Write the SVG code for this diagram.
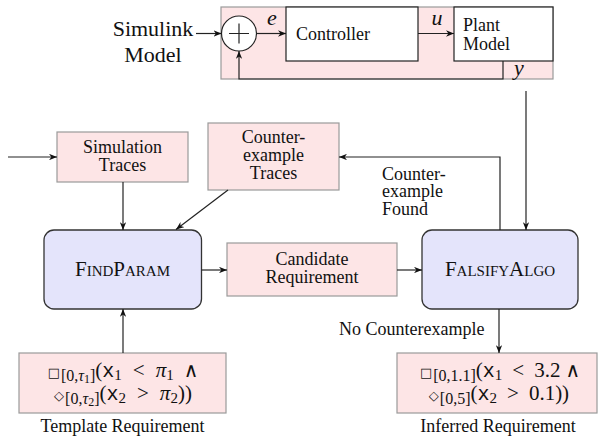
<svg xmlns="http://www.w3.org/2000/svg" width="598" height="441" viewBox="0 0 598 441">
<style>
text{font-family:"Liberation Serif","Times New Roman",serif;font-size:18px;fill:#111}
.pink{fill:#fde5e6;stroke:#9a9a9a;stroke-width:1.2}
.blue{fill:#e4e4fb;stroke:#333;stroke-width:1.3}
.white{fill:#fff;stroke:#222;stroke-width:1.2}
.ca{fill:none;stroke:#222;stroke-width:1.2;marker-end:url(#ah)}
.sc{font-variant:small-caps;font-size:21px}
.m{font-size:21px}
.mono{font-family:"Liberation Mono","Courier New",monospace;font-size:20px}
.mi{font-style:italic;font-size:22px}
.sym{font-family:"DejaVu Sans",sans-serif}
.and{font-family:"DejaVu Serif",serif;font-size:20px}
.lbl{font-family:"Liberation Serif","Times New Roman",serif;font-size:18px}
</style>
<defs>
<marker id="ah" viewBox="0 0 10 8" refX="10" refY="4" markerWidth="8" markerHeight="6.4" orient="auto" markerUnits="userSpaceOnUse">
<path d="M0,0 L10,4 L0,8 L3,4 z" fill="#111"/>
</marker>
</defs>

<g id="simulink-panel">
<rect x="221" y="7" width="332" height="72" class="pink"/>
</g>
<g id="simulink-label">
<text x="153" y="36" text-anchor="middle" style="font-size:22px">Simulink</text>
<text x="153" y="62" text-anchor="middle" style="font-size:22px">Model</text>
</g>
<g id="sum">
<circle cx="239" cy="33.5" r="17.5" fill="#fff" stroke="#222" stroke-width="1.2"/>
<path d="M229,33.5 H249 M239,23.5 V43.5" stroke="#222" stroke-width="1.2"/>
</g>
<g id="controller">
<rect x="286" y="7" width="132" height="54" class="white"/>
<text x="333" y="40" text-anchor="middle" class="lbl">Controller</text>
</g>
<g id="plant">
<rect x="454" y="7" width="99" height="54" class="white"/>
<text x="463" y="31" class="lbl">Plant</text>
<text x="463" y="50" class="lbl">Model</text>
</g>
<g id="simulation-traces">
<rect x="57" y="132" width="131" height="50" class="pink"/>
<text x="122.5" y="153" text-anchor="middle" class="lbl">Simulation</text>
<text x="122.5" y="171" text-anchor="middle" class="lbl">Traces</text>
</g>
<g id="counterexample-traces">
<rect x="208" y="123" width="131" height="67" class="pink"/>
<text x="273.5" y="143" text-anchor="middle" class="lbl">Counter-</text>
<text x="273.5" y="161" text-anchor="middle" class="lbl">example</text>
<text x="273.5" y="179" text-anchor="middle" class="lbl">Traces</text>
</g>
<g id="findparam">
<rect x="44" y="230" width="157.5" height="79" rx="10" class="blue"/>
<text x="122.5" y="276" text-anchor="middle" class="sc">FindParam</text>
</g>
<g id="candidate">
<rect x="227" y="243" width="170" height="53" class="pink"/>
<text x="312" y="265" text-anchor="middle" class="lbl">Candidate</text>
<text x="312" y="283" text-anchor="middle" class="lbl">Requirement</text>
</g>
<g id="falsifyalgo">
<rect x="422" y="230" width="156" height="79" rx="10" class="blue"/>
<text x="500" y="276" text-anchor="middle" class="sc">FalsifyAlgo</text>
</g>
<g id="template">
<rect x="19" y="353" width="207" height="60" class="pink"/>
<text x="123" y="377" text-anchor="middle" class="m"><tspan class="sym" font-size="13">□</tspan><tspan font-size="16" dy="4" dx="1">[0,</tspan><tspan font-size="16" font-style="italic">τ</tspan><tspan font-size="12" dy="2">1</tspan><tspan font-size="16" dy="-2">]</tspan><tspan dy="-4">(</tspan><tspan class="mono">x</tspan><tspan font-size="15" dy="3">1</tspan><tspan dy="-3" dx="11">&lt;</tspan><tspan font-style="italic" dx="11">π</tspan><tspan font-size="15" dy="3">1</tspan><tspan dy="-3" dx="10" class="and">∧</tspan></text>
<text x="123" y="400" text-anchor="middle" class="m"><tspan class="sym" font-size="13">◇</tspan><tspan font-size="16" dy="4" dx="1">[0,</tspan><tspan font-size="16" font-style="italic">τ</tspan><tspan font-size="12" dy="2">2</tspan><tspan font-size="16" dy="-2">]</tspan><tspan dy="-4">(</tspan><tspan class="mono">x</tspan><tspan font-size="15" dy="3">2</tspan><tspan dy="-3" dx="11">&gt;</tspan><tspan font-style="italic" dx="11">π</tspan><tspan font-size="15" dy="3">2</tspan><tspan dy="-3">))</tspan></text>
<text x="122.5" y="432" text-anchor="middle">Template Requirement</text>
</g>
<g id="inferred">
<rect x="397" y="353" width="200" height="60" class="pink"/>
<text x="500" y="377" text-anchor="middle" class="m"><tspan class="sym" font-size="13">□</tspan><tspan font-size="16" dy="4" dx="1">[0,1.1]</tspan><tspan dy="-4">(</tspan><tspan class="mono">x</tspan><tspan font-size="15" dy="3">1</tspan><tspan dy="-3" dx="10">&lt;</tspan><tspan dx="10">3.2</tspan><tspan dx="5" class="and">∧</tspan></text>
<text x="499" y="400" text-anchor="middle" class="m"><tspan class="sym" font-size="13">◇</tspan><tspan font-size="16" dy="4" dx="1">[0,5]</tspan><tspan dy="-4">(</tspan><tspan class="mono">x</tspan><tspan font-size="15" dy="3">2</tspan><tspan dy="-3" dx="10">&gt;</tspan><tspan dx="10">0.1))</tspan></text>
<text x="498" y="432" text-anchor="middle">Inferred Requirement</text>
</g>

<g id="connectors">
<line x1="196" y1="33.5" x2="221.5" y2="33.5" class="ca"/>
<line x1="256.5" y1="33.5" x2="286" y2="33.5" class="ca"/>
<line x1="418" y1="33.5" x2="454" y2="33.5" class="ca"/>
<path d="M503,61 V79 H239 V51" class="ca"/>
<line x1="526" y1="91" x2="526" y2="230" class="ca"/>
<path d="M500,230 V157 H339" class="ca"/>
<line x1="228" y1="190" x2="176" y2="229.5" class="ca"/>
<line x1="8" y1="157" x2="57" y2="157" class="ca"/>
<line x1="123" y1="182" x2="123" y2="230" class="ca"/>
<line x1="123" y1="353" x2="123" y2="309" class="ca"/>
<line x1="201.5" y1="270" x2="227" y2="270" class="ca"/>
<line x1="397" y1="270" x2="422" y2="270" class="ca"/>
<line x1="499" y1="309" x2="499" y2="353" class="ca"/>
</g>
<g id="labels">
<text x="272" y="25" text-anchor="middle" class="mi">e</text>
<text x="437" y="25" text-anchor="middle" class="mi">u</text>
<text x="519" y="75" text-anchor="middle" class="mi">y</text>
<text x="382" y="180" class="lbl">Counter-</text>
<text x="382" y="197" class="lbl">example</text>
<text x="382" y="215" class="lbl">Found</text>
<text x="339" y="335" class="lbl">No Counterexample</text>
</g>
</svg>
